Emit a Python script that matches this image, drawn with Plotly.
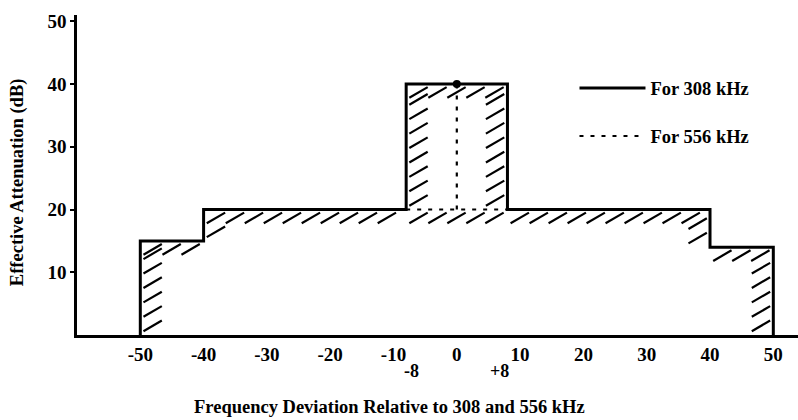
import plotly.graph_objects as go

# ---- data ----
freq_308 = [-50, -50, -40, -40, -8, -8, 8, 8, 40, 40, 50, 50]
att_308 = [0, 15, 15, 20, 20, 40, 40, 20, 20, 14, 14, 0]

freq_556 = [-8, 8, None, 0, 0]
att_556 = [20, 20, None, 20, 40]

peak_freq = [0]
peak_att = [40]

x_tick_vals = [-50, -40, -30, -20, -10, 0, 10, 20, 30, 40, 50]
x_tick_text = ["-50", "-40", "-30", "-20", "-10", "0", "10", "20", "30", "40", "50"]
y_tick_vals = [10, 20, 30, 40, 50]
y_tick_text = ["10", "20", "30", "40", "50"]

extra_freq = [-8, 8]
extra_text = ["-8", "+8"]

x_title = "Frequency Deviation Relative to 308 and 556 kHz"
y_title = "Effective Attenuation (dB)"

FONT = "Liberation Serif"


# ---- hatching along the inside of the outline (decoration) ----
def hatch_edges(edges, step_h=3.0, step_v=2.3, dx=2.9, dy=1.7, g=0.5):
    hx, hy = [], []
    for (x1, y1), (x2, y2) in edges:
        if y1 == y2 and y1 > 0:
            a, b = min(x1, x2), max(x1, x2)
            x = a + dx + g
            while x <= b - 0.2:
                hx += [x - dx, x, None]
                hy += [y1 - g - dy, y1 - g, None]
                x += step_h
        elif x1 == x2:
            lo, hi = min(y1, y2), max(y1, y2)
            if y2 > y1:  # rising edge: interior to the right
                y = lo + 0.6
                while y + dy <= hi - g - 0.2:
                    hx += [x1 + g, x1 + g + dx, None]
                    hy += [y, y + dy, None]
                    y += step_v
            else:  # falling edge: interior to the left
                y = lo + dy + 0.6
                while y <= hi - g - 0.2:
                    hx += [x1 - g - dx, x1 - g, None]
                    hy += [y - dy, y, None]
                    y += step_v
    return hx, hy


edges = list(zip(zip(freq_308[:-1], att_308[:-1]), zip(freq_308[1:], att_308[1:])))
edges.append(((freq_556[0], att_556[0]), (freq_556[1], att_556[1])))
hx, hy = hatch_edges(edges)

fig = go.Figure()

fig.add_trace(go.Scatter(
    x=hx, y=hy, mode="lines", line=dict(color="black", width=2.2),
    showlegend=False, hoverinfo="skip"))

fig.add_trace(go.Scatter(
    x=freq_308, y=att_308, mode="lines", name="For 308 kHz",
    line=dict(color="black", width=3), legendgroup="a"))

fig.add_trace(go.Scatter(
    x=freq_556, y=att_556, mode="lines", name="For 556 kHz",
    line=dict(color="black", width=2.2, dash="4px,7px"), legendgroup="b"))

fig.add_trace(go.Scatter(
    x=peak_freq, y=peak_att, mode="markers", showlegend=False,
    marker=dict(color="black", size=8)))

for f, t, sh in zip(extra_freq, extra_text, [5, -8]):
    fig.add_annotation(x=f, y=0, text=t, showarrow=False, yanchor="top",
                       xshift=sh, yshift=-24,
                       font=dict(family=FONT, size=18, color="black", weight="bold"))

fig.add_annotation(x=0.434, y=-0.225, xref="paper", yref="paper", text=x_title,
                   showarrow=False, xanchor="center", yanchor="middle",
                   font=dict(family=FONT, size=18.5, color="black", weight="bold"))
fig.add_annotation(x=-0.083, y=0.478, xref="paper", yref="paper", text=y_title,
                   showarrow=False, xanchor="center", yanchor="middle", textangle=-90,
                   font=dict(family=FONT, size=18.5, color="black", weight="bold"))

fig.update_layout(
    width=798, height=420,
    margin=dict(l=77, r=0, t=15, b=85),
    paper_bgcolor="white", plot_bgcolor="white",
    font=dict(family=FONT, color="black", size=18, weight="bold"),
    legend=dict(x=0.69, y=0.83, xanchor="left", yanchor="top",
                bgcolor="rgba(0,0,0,0)", tracegroupgap=21, itemwidth=66,
                font=dict(family=FONT, size=18.5, weight="bold")),
    xaxis=dict(
        range=[-60, 53.9], showgrid=False, zeroline=False,
        showline=True, linecolor="black", linewidth=2.5,
        tickmode="array", tickvals=x_tick_vals, ticktext=x_tick_text,
        ticks="", tickfont=dict(family=FONT, size=19, weight="bold"),
    ),
    yaxis=dict(
        range=[0, 51], showgrid=False, zeroline=False,
        showline=True, linecolor="black", linewidth=2.5,
        tickmode="array", tickvals=y_tick_vals, ticktext=y_tick_text,
        ticks="outside", ticklen=4, tickwidth=2, tickcolor="black",
        tickfont=dict(family=FONT, size=19, weight="bold"),
    ),
)

fig.write_html("out.html")
